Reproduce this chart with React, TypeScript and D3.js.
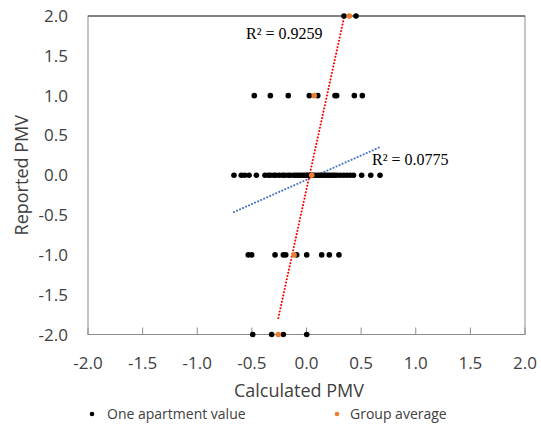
import React from 'react';
import * as d3 from 'd3';

// reported PMV levels and the calculated PMV of each apartment at that level
const levels = [2, 1, 0, -1, -2];
const apartmentsAt2 = [0.343, 0.453];
const apartmentsAt1 = [-0.478, -0.331, -0.167, 0.026, 0.103, 0.261, 0.276, 0.438, 0.511];
const apartmentsAt0 = [
  -0.664, -0.597, -0.566, -0.526, -0.459,
  -0.38, -0.35, -0.33, -0.30, -0.28, -0.25, -0.22, -0.20, -0.17, -0.15, -0.12, -0.10,
  -0.08, -0.06, -0.04, -0.02, 0.0, 0.01, 0.03, 0.05, 0.06, 0.08, 0.10, 0.12, 0.14,
  0.16, 0.18, 0.20, 0.22, 0.24, 0.26, 0.28, 0.31, 0.34, 0.37, 0.40, 0.43,
  0.505, 0.588, 0.673,
];
const apartmentsAtM1 = [-0.533, -0.502, -0.288, -0.212, -0.19, -0.09, 0.002, 0.139, 0.209, 0.297];
const apartmentsAtM2 = [-0.492, -0.319, -0.212, 0.002];
const groupAverage = [0.392, 0.071, 0.048, -0.114, -0.258];
// linear trendline of all apartments (slope, intercept)
const apartmentTrend = [0.61, -0.057];
const ticks = [-2, -1.5, -1, -0.5, 0, 0.5, 1, 1.5, 2];
const r2Labels = ['R² = 0.9259', 'R² = 0.0775'];

const width = 541;
const height = 425;
const plot = { left: 88, right: 525, top: 16, bottom: 334.5 };

const fit = (xs: number[], ys: number[]) => {
  const mx = d3.mean(xs)!;
  const my = d3.mean(ys)!;
  const sxy = d3.sum(xs, (x, i) => (x - mx) * (ys[i] - my));
  const sxx = d3.sum(xs, (x) => (x - mx) ** 2);
  const slope = sxy / sxx;
  return { slope, intercept: my - slope * mx };
};

const fmt = (v: number) => d3.format('.1f')(v).replace('\u2212', '-');

export default function App() {
  const x = d3.scaleLinear().domain([-2, 2]).range([plot.left, plot.right]);
  const y = d3.scaleLinear().domain([-2, 2]).range([plot.bottom, plot.top]);

  const groups = [apartmentsAt2, apartmentsAt1, apartmentsAt0, apartmentsAtM1, apartmentsAtM2];
  const points = groups.flatMap((g, i) => g.map((v) => [v, levels[i]] as [number, number]));

  const allFit = { slope: apartmentTrend[0], intercept: apartmentTrend[1] };
  const avgFit = fit(groupAverage, levels);

  const lineFor = (f: { slope: number; intercept: number }, x0: number, x1: number) =>
    d3.line<number>()
      .x((v) => x(v))
      .y((v) => y(f.slope * v + f.intercept))([x0, x1]) || '';

  const allExt = d3.extent(points, (p) => p[0]) as [number, number];
  const avgExt = d3.extent(groupAverage) as [number, number];

  const font = 'Open Sans, sans-serif';
  const ink = '#404040';

  return (
    <svg width={width} height={height} style={{ position: 'absolute', left: 0, top: 0, background: '#fff' }}>
      <defs>
        <clipPath id="plot-clip">
          <rect x={plot.left} y={plot.top} width={plot.right - plot.left} height={plot.bottom - plot.top} />
        </clipPath>
      </defs>

      <rect x={plot.left} y={plot.top} width={plot.right - plot.left} height={plot.bottom - plot.top}
        fill="none" stroke="#8c8c8c" strokeWidth={1} />
      <line x1={plot.left} x2={plot.right} y1={plot.top} y2={plot.top} stroke="#404040" strokeWidth={1.2} />

      {ticks.map((t) => (
        <line key={'t' + t} x1={x(t)} x2={x(t)} y1={plot.bottom} y2={plot.bottom - 7} stroke="#8c8c8c" />
      ))}

      {ticks.map((t) => (
        <text key={'xl' + t} x={x(t)} y={369} textAnchor="middle" fontFamily={font} fontSize={17} fill={ink}>
          {fmt(t)}
        </text>
      ))}
      {ticks.map((t) => (
        <text key={'yl' + t} x={68} y={y(t) + 6} textAnchor="end" fontFamily={font} fontSize={17} fill={ink}>
          {fmt(t)}
        </text>
      ))}

      <text x={299} y={397} textAnchor="middle" fontFamily={font} fontSize={18} fill={ink}>Calculated PMV</text>
      <text transform={`translate(28,${(plot.top + plot.bottom) / 2}) rotate(-90)`} textAnchor="middle"
        fontFamily={font} fontSize={18} fill={ink}>Reported PMV</text>

      <g clipPath="url(#plot-clip)">
        <path d={lineFor(allFit, allExt[0], allExt[1])} stroke="#4472c4" strokeWidth={2}
          strokeDasharray="0.1 3.2" strokeLinecap="round" fill="none" />
        <path d={lineFor(avgFit, avgExt[0], avgExt[1])} stroke="#ff0000" strokeWidth={2}
          strokeDasharray="0.1 3.2" strokeLinecap="round" fill="none" />
      </g>

      {points.map((p, i) => (
        <circle key={'p' + i} cx={x(p[0])} cy={y(p[1])} r={2.8} fill="#000" />
      ))}
      {groupAverage.map((v, i) => (
        <circle key={'g' + i} cx={x(v)} cy={y(levels[i])} r={2.8} fill="#ed7d31" />
      ))}

      <text x={246} y={39} fontFamily="Liberation Serif, serif" fontSize={16} fill="#000">{r2Labels[0]}</text>
      <text x={372} y={165} fontFamily="Liberation Serif, serif" fontSize={16} fill="#000">{r2Labels[1]}</text>

      <circle cx={92} cy={414} r={2.3} fill="#000" />
      <text x={107} y={419} fontFamily={font} fontSize={14} fill={ink}>One apartment value</text>
      <circle cx={337} cy={414} r={2.3} fill="#ed7d31" />
      <text x={350} y={419} fontFamily={font} fontSize={14} fill={ink}>Group average</text>
    </svg>
  );
}
